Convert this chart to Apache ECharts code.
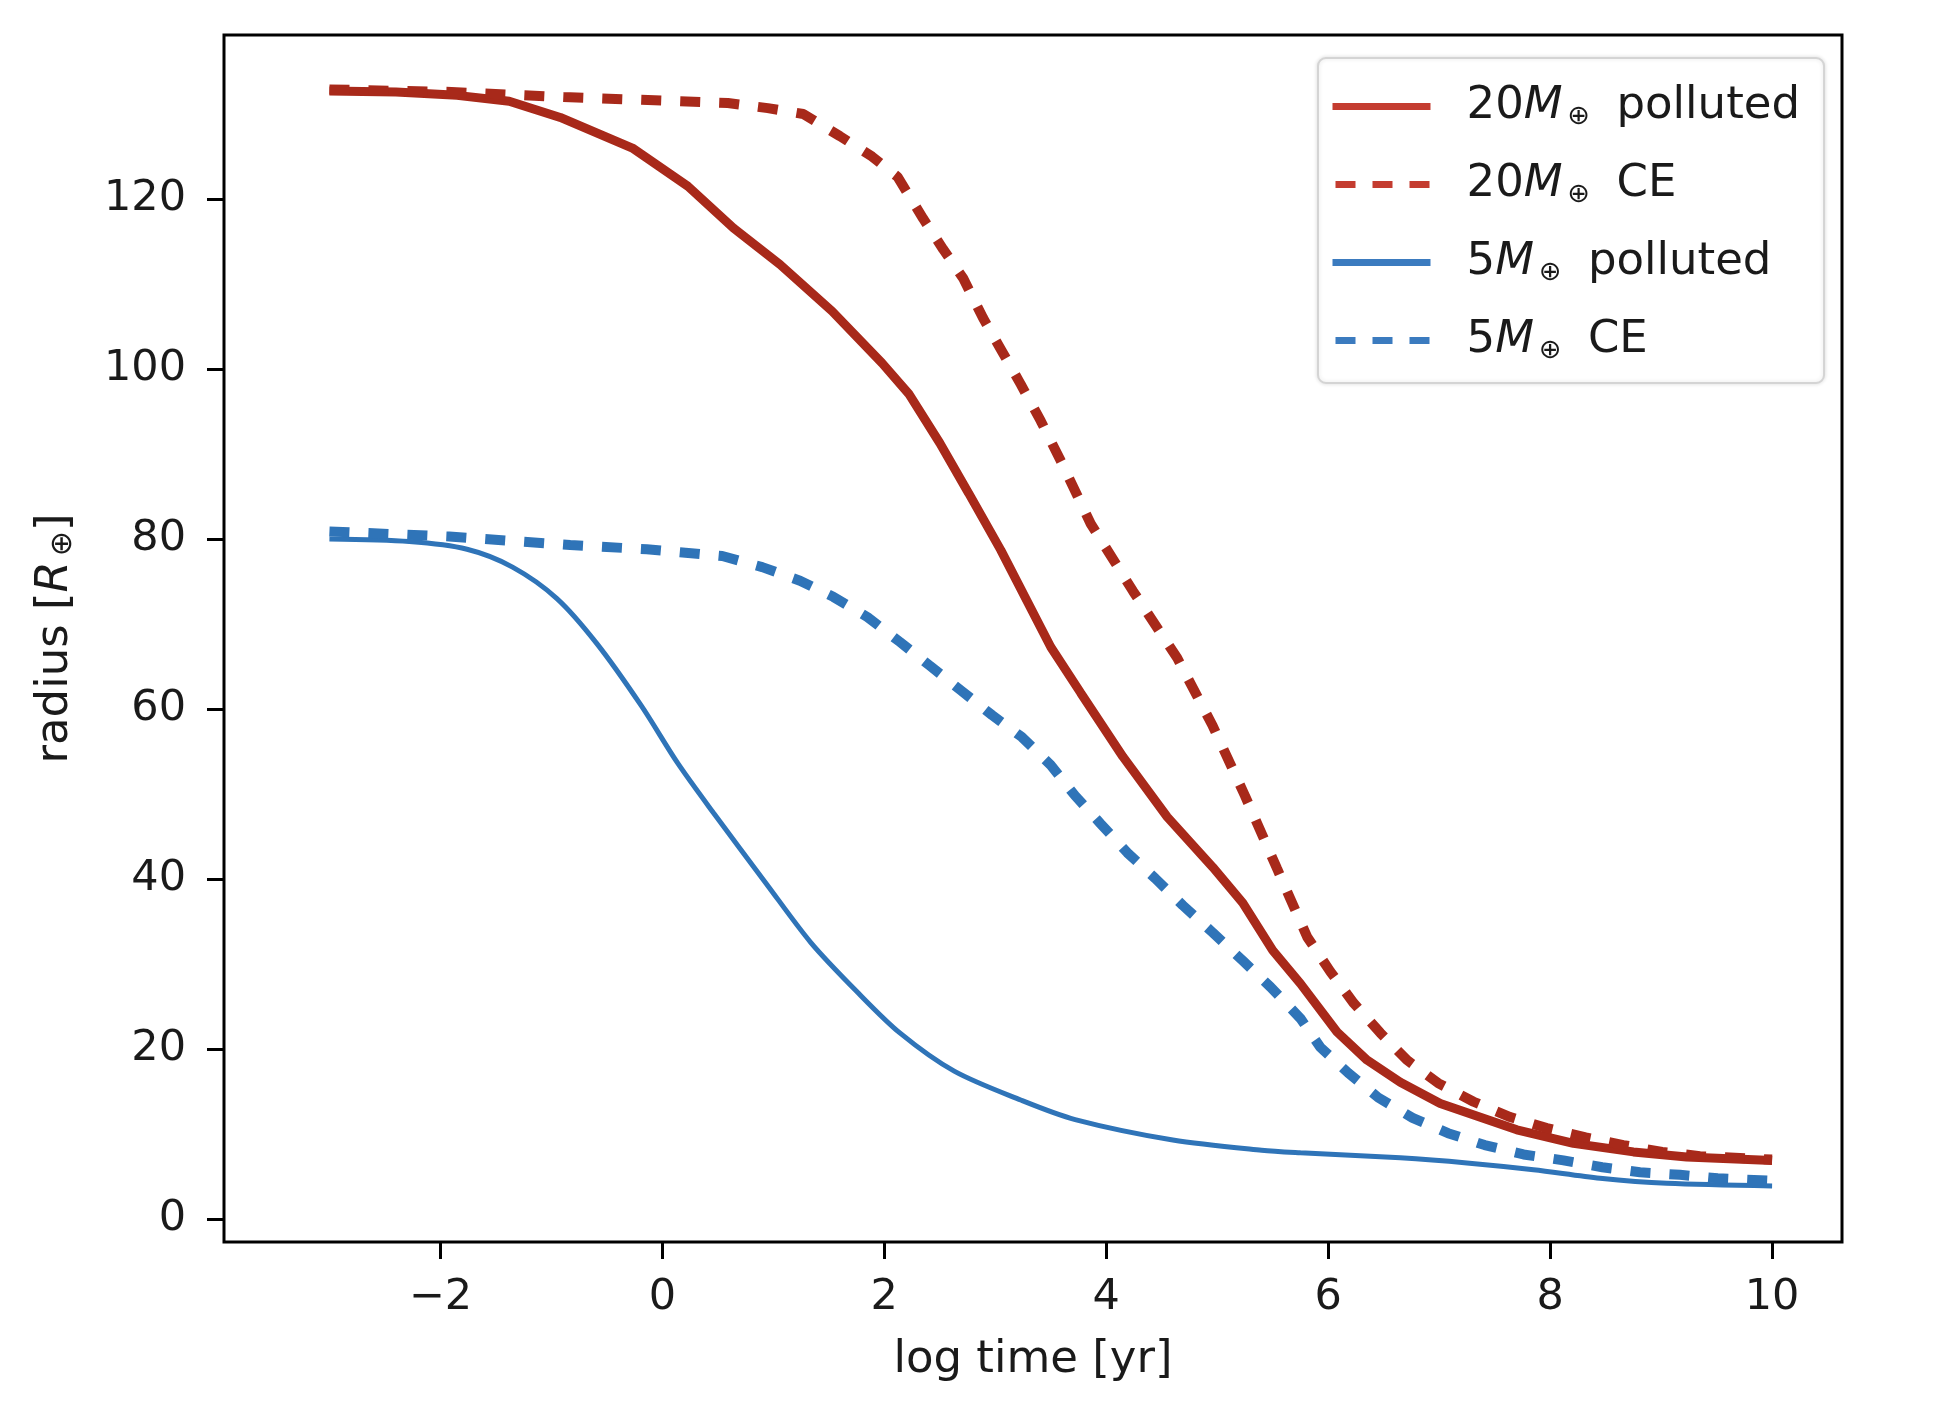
<!DOCTYPE html>
<html>
<head>
<meta charset="utf-8">
<script src="https://cdn.jsdelivr.net/npm/echarts@6/dist/echarts.min.js"></script>
<style>html,body{margin:0;background:#fff}#main{width:1934px;height:1410px}</style>
</head>
<body>
<div id="main"></div>
<script>
const xTicks = [-2, 0, 2, 4, 6, 8, 10];
const yTicks = [0, 20, 40, 60, 80, 100, 120];
const names = ['20M polluted', '20M CE', '5M polluted', '5M CE'];

const m20Polluted = [[-3,132.7],[-2.4,132.6],[-1.85,132.2],[-1.38,131.5],[-0.92,129.6],[-0.27,126.0],[0.23,121.5],
  [0.64,116.6],[1.06,112.3],[1.53,106.8],[1.98,100.7],[2.22,97.1],[2.5,91.3],[2.76,85.4],[3.05,78.7],[3.5,67.3],
  [3.77,61.9],[4.15,54.4],[4.55,47.3],[4.96,41.4],[5.23,37.2],[5.5,31.6],[5.75,27.7],[6.08,22.0],[6.35,18.7],
  [6.65,16.1],[7.01,13.6],[7.7,10.5],[8.21,8.9],[8.75,7.9],[9.23,7.3],[10,6.9]];
const m20CE = [[-3,132.9],[-1.9,132.6],[-0.89,132.0],[0.59,131.3],[0.95,130.7],[1.27,130],[1.6,127.4],[1.89,125],
  [2.12,122.6],[2.35,117.7],[2.53,114.1],[2.71,110.7],[2.89,106],[3.06,102.1],[3.23,98.2],[3.41,93.9],[3.59,89.2],
  [3.86,81.8],[4.24,73.9],[4.64,66.0],[4.96,58.0],[5.25,49.8],[5.54,41.2],[5.81,33.2],[6.02,29.1],[6.23,25.4],
  [6.47,21.9],[6.71,18.7],[6.99,16.0],[7.31,13.8],[7.64,12.0],[7.97,10.7],[8.32,9.6],[8.66,8.7],[9.01,7.9],
  [9.35,7.4],[10,7.0]];
const m5Polluted = [[-3,80.0],[-2.28,79.7],[-1.76,78.8],[-1.35,76.7],[-0.95,73.0],[-0.59,67.7],[-0.19,60.4],
  [0.14,53.6],[0.46,47.8],[0.94,39.4],[1.34,32.5],[1.75,26.8],[2.14,21.9],[2.63,17.4],[3.23,14.0],[3.72,11.7],
  [4.6,9.3],[5.4,8.1],[5.75,7.8],[6.65,7.2],[7.25,6.6],[7.85,5.8],[8.45,4.8],[9.05,4.2],[10,3.9]];
const m5CE = [[-3,80.9],[-1.92,80.3],[-0.83,79.3],[-0.14,78.8],[0.54,78.0],[0.9,76.7],[1.24,75.1],[1.54,73.2],
  [1.85,70.8],[2.14,67.9],[2.41,65.1],[2.69,62.2],[2.97,59.3],[3.24,56.7],[3.5,53.4],[3.72,49.8],[3.95,46.5],
  [4.19,43.1],[4.44,40.1],[4.69,36.9],[4.96,33.7],[5.23,30.4],[5.48,27.3],[5.75,23.6],[5.93,20.2],[6.18,17.2],
  [6.45,14.3],[6.76,11.9],[7.08,10.1],[7.41,8.7],[7.76,7.6],[8.12,6.9],[8.47,6.1],[8.81,5.5],[9.17,5.2],
  [9.51,4.8],[10,4.5]];

const font = 'DejaVu Sans';
const ink = '#1a1a1a';
const red = '#a8291a', blue = '#2f74b8';
const redKey = '#c43c30', blueKey = '#3b7bbf';
const minus = v => v < 0 ? '\u2212' + (-v) : String(v);

const chart = echarts.init(document.getElementById('main'));
chart.setOption({
  animation: false,
  backgroundColor: '#fff',
  grid: { left: 224, right: 92, top: 35, bottom: 168, show: true, borderColor: '#000', borderWidth: 3 },
  xAxis: {
    type: 'value', min: -3.95, max: 10.63,
    name: 'log time [yr]', nameLocation: 'middle', nameGap: 96,
    nameTextStyle: { fontFamily: font, fontSize: 45, color: ink },
    axisLine: { show: false, onZero: false },
    axisTick: { show: true, length: 17, lineStyle: { color: '#000', width: 3 }, customValues: xTicks },
    axisLabel: { fontFamily: font, fontSize: 43, color: ink, margin: 34, customValues: xTicks, formatter: minus },
    splitLine: { show: false }
  },
  yAxis: {
    type: 'value', min: -2.7, max: 139.3,
    name: 'radius [{i|R}{s|⊕}]', nameLocation: 'middle', nameGap: 146, nameRotate: 90,
    nameTextStyle: { fontFamily: font, fontSize: 45, color: ink,
      rich: { i: { fontFamily: font, fontSize: 45, fontStyle: 'italic', color: ink },
              s: { fontFamily: font, fontSize: 30, color: ink, padding: [15, 0, 0, 5] } } },
    axisLine: { show: false, onZero: false },
    axisTick: { show: true, length: 17, lineStyle: { color: '#000', width: 3 }, customValues: yTicks },
    axisLabel: { fontFamily: font, fontSize: 43, color: ink, margin: 38, customValues: yTicks, formatter: minus },
    splitLine: { show: false }
  },
  legend: {
    orient: 'vertical', left: 1318, top: 58,
    padding: [26, 24, 19, 11], itemGap: 32, itemWidth: 98, itemHeight: 14,
    backgroundColor: '#fff', borderColor: '#d4d4d4', borderWidth: 2, borderRadius: 8,
    shadowColor: 'rgba(0,0,0,0.12)', shadowBlur: 4,
    itemStyle: { color: 'transparent', borderWidth: 0, opacity: 0 },
    textStyle: { fontFamily: font, fontSize: 45, color: ink, padding: [0, 0, 0, 31],
      rich: {
        n: { fontFamily: font, fontSize: 45, color: ink },
        m: { fontFamily: font, fontSize: 45, color: ink, fontStyle: 'italic' },
        s: { fontFamily: font, fontSize: 27, color: ink, padding: [20, 12, 0, 5] }
      } },
    formatter: n => { const [num, rest] = n.split('M'); return '{n|' + num + '}{m|M}{s|⊕}' + rest; },
    data: [
      { name: names[0], lineStyle: { color: redKey, width: 7 } },
      { name: names[1], lineStyle: { color: redKey, width: 7, type: [20, 17], dashOffset: -3 } },
      { name: names[2], lineStyle: { color: blueKey, width: 7 } },
      { name: names[3], lineStyle: { color: blueKey, width: 7, type: [20, 17], dashOffset: -3 } }
    ]
  },
  series: [
    { name: names[0], type: 'line', data: m20Polluted, symbol: 'none', color: red,
      lineStyle: { color: red, width: 9 } },
    { name: names[1], type: 'line', data: m20CE, symbol: 'none', color: red,
      lineStyle: { color: red, width: 10, type: [20, 19] } },
    { name: names[2], type: 'line', data: m5Polluted, symbol: 'none', smooth: 0.3, color: blue,
      lineStyle: { color: blue, width: 5 } },
    { name: names[3], type: 'line', data: m5CE, symbol: 'none', color: blue,
      lineStyle: { color: blue, width: 10, type: [20, 19] } }
  ]
});
</script>
</body>
</html>
